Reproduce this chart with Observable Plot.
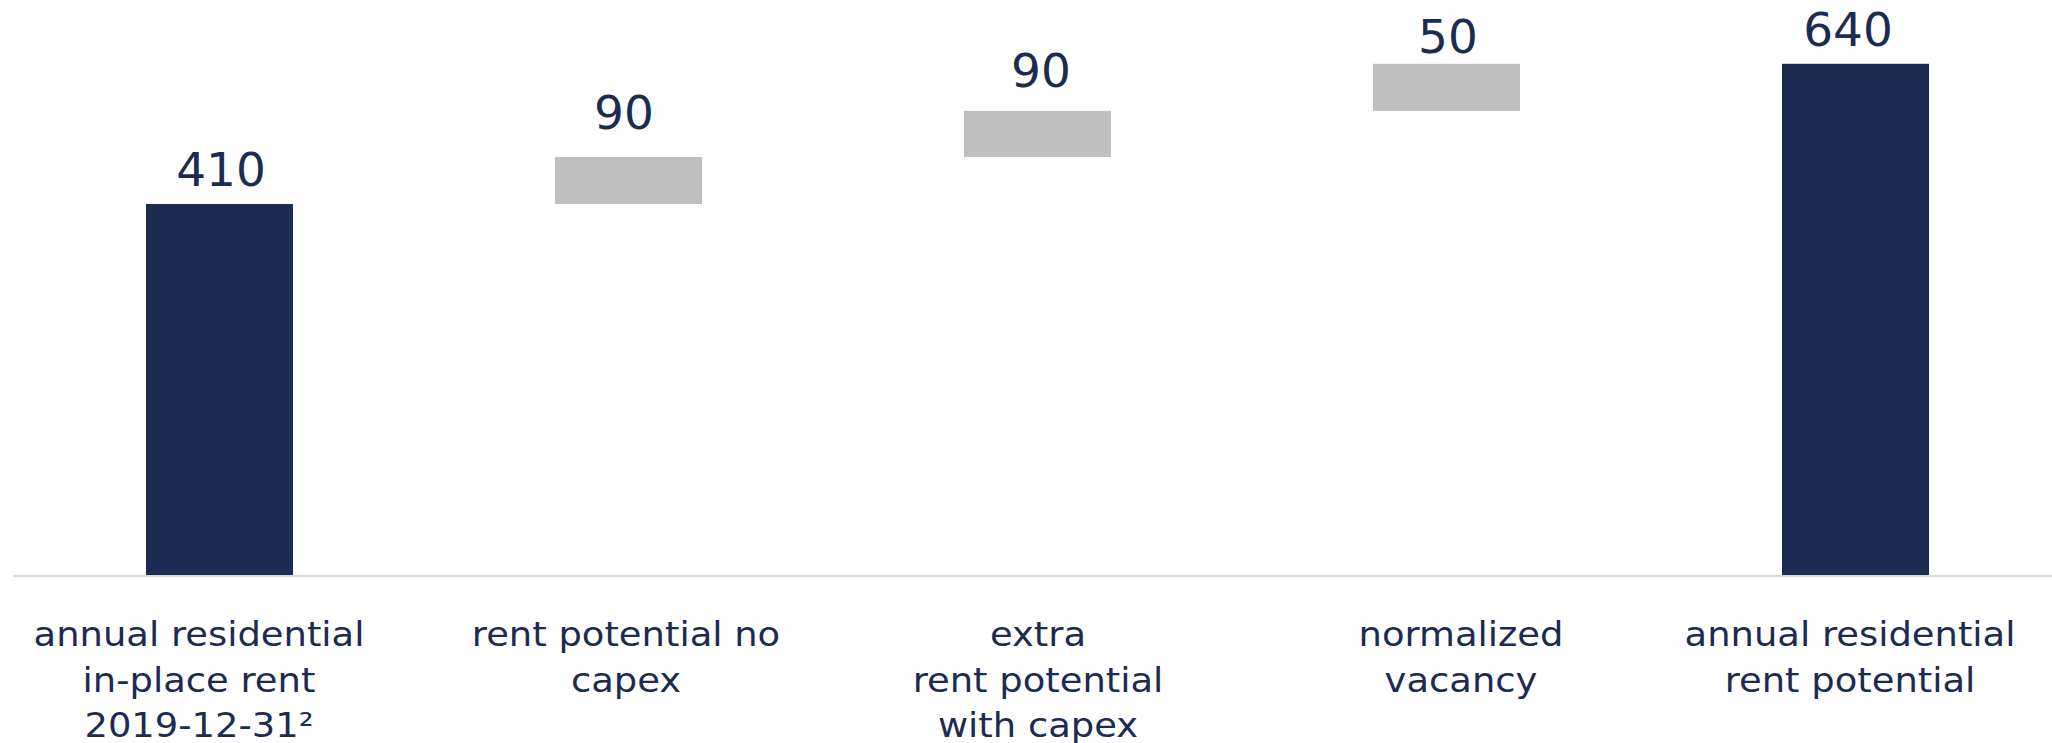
<!DOCTYPE html>
<html>
<head>
<meta charset="utf-8">
<script src="https://cdn.jsdelivr.net/npm/d3@7"></script>
<script src="https://cdn.jsdelivr.net/npm/@observablehq/plot@0.6"></script>
<style>
  html, body { margin: 0; padding: 0; background: #ffffff; }
  #chart svg { display: block; }
</style>
</head>
<body>
<div id="chart"></div>
<script>
// ---- data ----
const categories = [
  "annual residential\nin-place rent\n2019-12-31²",
  "rent potential no\ncapex",
  "extra\nrent potential\nwith capex",
  "normalized\nvacancy",
  "annual residential\nrent potential"
];
const valueLabels = [410, 90, 90, 50, 640];
const kinds = ["total", "step", "step", "step", "total"];
// bar extents as drawn in the picture (the original waterfall is not drawn to scale)
const barBase = [0, 410, 462, 513, 0];
const barTop = [410, 462, 513, 565, 565];
// vertical anchor of each value label, in the same units
const labelAt = [430, 494, 540, 578, 585];

// small horizontal nudges of the text boxes in the original layout (px)
const valueNudge = [1, -5, 3, 1, -8];
const categoryNudge = [-21, -3, 0, 14, -6];

const navy = "#1b2b52";
const gray = "#bfbfbf";

const data = categories.map((c, i) => ({
  cat: c, kind: kinds[i], y1: barBase[i], y2: barTop[i], label: String(valueLabels[i]), ly: labelAt[i]
}));

const chart = Plot.plot({
  width: 2052,
  height: 743,
  marginTop: 0,
  marginBottom: 168,
  marginLeft: 13,
  marginRight: 0,
  style: { fontFamily: "'DejaVu Sans', Verdana, sans-serif", background: "#ffffff", overflow: "visible" },
  x: { domain: categories, paddingInner: 0.6408, paddingOuter: 0.3116, align: 0.5176, axis: null },
  y: { domain: [0, 635.5], axis: null },
  color: { domain: ["total", "step"], range: [navy, gray] },
  marks: [
    Plot.ruleY([0], { stroke: "#d9d9d9", strokeWidth: 2, dy: 0.5 }),
    Plot.barY(data, { x: "cat", y1: "y1", y2: "y2", fill: "kind" }),
    ...data.map((d, i) => Plot.text([d], {
      x: "cat", y: "ly", text: "label", dx: valueNudge[i],
      fill: navy, fontSize: 47, lineAnchor: "bottom"
    })),
    ...data.map((d, i) => Plot.text([d], {
      x: "cat", text: "cat", dx: categoryNudge[i],
      frameAnchor: "bottom", lineAnchor: "top", dy: 38.6,
      fontSize: 34, lineHeight: 1.338, fill: navy
    }))
  ]
});
document.getElementById("chart").appendChild(chart);

// the original typeface is slightly wider than DejaVu Sans
function stretch(group, f) {
  if (!group) return;
  group.querySelectorAll("text").forEach(t => {
    const spans = t.querySelectorAll("tspan");
    const els = spans.length ? Array.from(spans) : [t];
    els.forEach(el => {
      const L = el.getComputedTextLength();
      el.setAttribute("textLength", (L * f).toFixed(2));
      el.setAttribute("lengthAdjust", "spacingAndGlyphs");
    });
  });
}
const textGroups = chart.querySelectorAll('g[aria-label="text"]');
for (let i = 5; i < textGroups.length; ++i) stretch(textGroups[i], 1.085);
</script>
</body>
</html>
